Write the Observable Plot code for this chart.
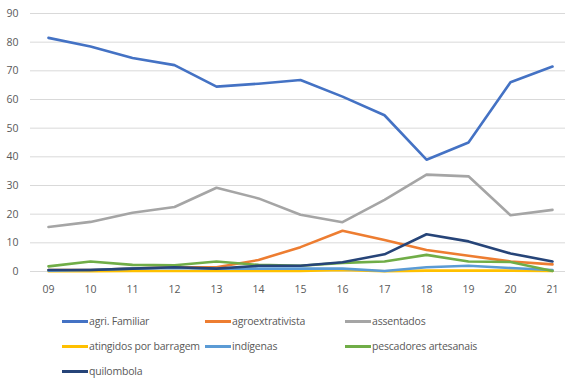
<!DOCTYPE html>
<html>
<head>
<meta charset="utf-8">
<script src="https://cdn.jsdelivr.net/npm/d3@7"></script>
<script src="https://cdn.jsdelivr.net/npm/@observablehq/plot@0.6"></script>
<style>
  html, body { margin: 0; padding: 0; background: #fff; }
  body { width: 565px; height: 380px; overflow: hidden; font-family: "Open Sans", "Liberation Sans", sans-serif; }
  #legend { display: grid; grid-template-columns: 143px 140px 200px; margin-left: 62px; row-gap: 7px; margin-top: 12px; }
  .item { display: flex; align-items: center; font-size: 10.5px; letter-spacing: -0.2px; color: #595959; height: 18px; white-space: nowrap; }
  .sw { display: inline-block; width: 26px; height: 3px; margin-right: 1px; }
</style>
</head>
<body>
<div id="chart"></div>
<div id="legend"></div>
<script>
const years = ["09","10","11","12","13","14","15","16","17","18","19","20","21"];
const seriesNames = ["agri. Familiar","agroextrativista","assentados","atingidos por barragem","indígenas","pescadores artesanais","quilombola"];
const colors = ["#4472C4","#ED7D31","#A5A5A5","#FFC000","#5B9BD5","#70AD47","#264478"];
const agriFamiliar      = [81.5, 78.5, 74.5, 72, 64.5, 65.5, 66.8, 61, 54.5, 39, 45, 66, 71.5];
const agroextrativista  = [0.5, 0.5, 1, 1.5, 1.5, 4, 8.5, 14.2, 11, 7.5, 5.5, 3.5, 2.5];
const assentados        = [15.5, 17.3, 20.5, 22.5, 29.2, 25.5, 19.8, 17.2, 25, 33.8, 33.2, 19.6, 21.5];
const atingidos         = [0.1, 0.1, 0.2, 0.2, 0.2, 0.2, 0.2, 0.5, 0.1, 0.3, 0.3, 0.3, 0.2];
const indigenas         = [0.3, 0.5, 1, 1.2, 1, 1, 1, 1, 0.2, 1.5, 2, 1.2, 0.5];
const pescadores        = [1.8, 3.5, 2.3, 2.2, 3.5, 2.3, 2, 3, 3.5, 5.8, 3.5, 3.3, 0.2];
const quilombola        = [0.5, 0.5, 1, 1.5, 1, 2, 2, 3.2, 6, 13, 10.5, 6.3, 3.5];
const yTicks = [0,10,20,30,40,50,60,70,80,90];

const allValues = [agriFamiliar, agroextrativista, assentados, atingidos, indigenas, pescadores, quilombola];
const data = [];
seriesNames.forEach((s, i) => years.forEach((y, j) => data.push({serie: s, year: y, value: allValues[i][j]})));

const chart = Plot.plot({
  width: 565,
  height: 300,
  marginLeft: 30,
  marginRight: 0,
  marginTop: 13,
  marginBottom: 29,
  style: {fontFamily: '"Open Sans", "Liberation Sans", sans-serif', fontSize: "10.5px", color: "#595959"},
  x: {type: "point", domain: years, padding: 0, insetLeft: 18, insetRight: 13, label: null, tickSize: 0, tickPadding: 14},
  y: {domain: [0, 90], ticks: yTicks, label: null, tickSize: 0, tickPadding: 12},
  color: {domain: seriesNames, range: colors},
  marks: [
    Plot.gridY(yTicks, {stroke: "#d9d9d9", strokeOpacity: 1, strokeWidth: 1}),
    Plot.line(data, {x: "year", y: "value", z: "serie", stroke: "serie", strokeWidth: 2.6, strokeLinejoin: "round", strokeLinecap: "round"})
  ]
});
document.getElementById("chart").appendChild(chart);

const legend = document.getElementById("legend");
seriesNames.forEach((s, i) => {
  const d = document.createElement("div");
  d.className = "item";
  d.innerHTML = `<span class="sw" style="background:${colors[i]}"></span>${s}`;
  legend.appendChild(d);
});
</script>
</body>
</html>
